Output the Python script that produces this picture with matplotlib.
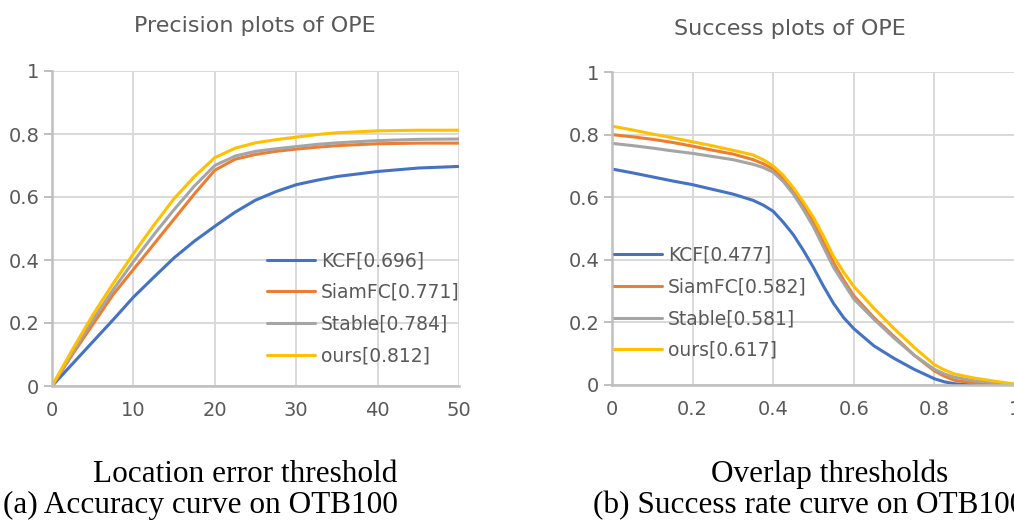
import numpy as np
import matplotlib
matplotlib.use("Agg")
import matplotlib.pyplot as plt

# Precision plot (location error threshold)
err_thr = [0, 2.5, 5, 7.5, 10, 12.5, 15, 17.5, 20, 22.5, 25, 27.5, 30, 32.5, 35, 40, 45, 50]
prec_kcf = [0, 0.07, 0.14, 0.21, 0.282, 0.345, 0.407, 0.46, 0.507, 0.552, 0.59, 0.617, 0.639, 0.653, 0.665, 0.681, 0.692, 0.697]
prec_siam = [0, 0.10, 0.195, 0.29, 0.37, 0.45, 0.53, 0.61, 0.685, 0.72, 0.735, 0.745, 0.752, 0.758, 0.763, 0.769, 0.771, 0.771]
prec_stable = [0, 0.105, 0.21, 0.305, 0.395, 0.48, 0.56, 0.635, 0.70, 0.73, 0.745, 0.753, 0.76, 0.767, 0.772, 0.779, 0.783, 0.784]
prec_ours = [0, 0.115, 0.225, 0.325, 0.42, 0.51, 0.595, 0.665, 0.725, 0.755, 0.772, 0.782, 0.79, 0.798, 0.804, 0.81, 0.812, 0.812]

# Success plot (overlap threshold)
ov_thr = [0, 0.05, 0.1, 0.15, 0.2, 0.25, 0.3, 0.35, 0.375, 0.4, 0.425, 0.45, 0.475, 0.5,
          0.525, 0.55, 0.575, 0.6, 0.65, 0.7, 0.75, 0.8, 0.825, 0.85, 0.9, 0.95, 1.0]
succ_kcf = [0.69, 0.678, 0.665, 0.652, 0.64, 0.625, 0.61, 0.59, 0.575, 0.555, 0.52, 0.48, 0.43, 0.375,
            0.315, 0.26, 0.215, 0.18, 0.125, 0.085, 0.05, 0.02, 0.01, 0.004, 0, 0, 0]
succ_siam = [0.80, 0.793, 0.785, 0.775, 0.763, 0.75, 0.738, 0.72, 0.707, 0.69, 0.66, 0.62, 0.575, 0.52,
             0.455, 0.39, 0.335, 0.285, 0.215, 0.155, 0.095, 0.045, 0.028, 0.015, 0.006, 0.002, 0]
succ_stable = [0.772, 0.765, 0.757, 0.748, 0.74, 0.73, 0.72, 0.705, 0.695, 0.68, 0.65, 0.61, 0.56, 0.505,
               0.44, 0.375, 0.325, 0.275, 0.21, 0.15, 0.095, 0.05, 0.035, 0.025, 0.013, 0.007, 0.002]
succ_ours = [0.827, 0.815, 0.802, 0.79, 0.777, 0.764, 0.75, 0.735, 0.72, 0.70, 0.67, 0.63, 0.585, 0.535,
             0.475, 0.41, 0.36, 0.315, 0.245, 0.18, 0.12, 0.065, 0.048, 0.035, 0.022, 0.012, 0.003]

labels_prec = ["KCF[0.696]", "SiamFC[0.771]", "Stable[0.784]", "ours[0.812]"]
labels_succ = ["KCF[0.477]", "SiamFC[0.582]", "Stable[0.581]", "ours[0.617]"]
colors = ["#4472C4", "#ED7D31", "#A5A5A5", "#FFC000"]

W, H = 1014, 531
fig = plt.figure(figsize=(W / 100, H / 100), dpi=100)
plt.rcParams['font.family'] = ['DejaVu Sans']
txtc = "#595959"


def px_axes(x0, x1, ytop, ybot):
    return fig.add_axes([x0 / W, 1 - ybot / H, (x1 - x0) / W, (ybot - ytop) / H])


def style(ax, xticks, xlabels):
    ax.set_ylim(0, 1)
    ax.set_yticks([0, 0.2, 0.4, 0.6, 0.8, 1])
    ax.set_yticklabels(["0", "0.2", "0.4", "0.6", "0.8", "1"])
    ax.set_xticks(xticks)
    ax.set_xticklabels(xlabels)
    ax.grid(True, color="#D9D9D9", lw=1.4)
    ax.set_axisbelow(True)
    for s in ["top", "right"]:
        ax.spines[s].set_visible(False)
    for s in ["left", "bottom"]:
        ax.spines[s].set_color("#BFBFBF")
        ax.spines[s].set_linewidth(1.8)
    ax.tick_params(axis="y", length=6, width=1.4, color="#BFBFBF", pad=3.0,
                   labelsize=14, labelcolor=txtc)
    ax.tick_params(axis="x", length=0, pad=11, labelsize=14, labelcolor=txtc)


leg_kw = dict(loc="upper left", frameon=False, fontsize=13.5, handlelength=2.55,
              handletextpad=0.33, labelspacing=0.68, borderpad=0, borderaxespad=0,
              labelcolor=txtc)

# left panel
ax1 = px_axes(52, 459, 71, 386)
for y, lab, c in zip([prec_kcf, prec_siam, prec_stable, prec_ours], labels_prec, colors):
    ax1.plot(err_thr, y, color=c, lw=2.2, label=lab, solid_capstyle="round")
ax1.set_xlim(0, 50)
style(ax1, [0, 10, 20, 30, 40, 50], ["0", "10", "20", "30", "40", "50"])
ax1.legend(bbox_to_anchor=(0.528, 0.428), **leg_kw)

# right panel
ax2 = px_axes(612, 1015, 72, 385)
for y, lab, c in zip([succ_kcf, succ_siam, succ_stable, succ_ours], labels_succ, colors):
    ax2.plot(ov_thr, y, color=c, lw=2.2, label=lab, solid_capstyle="round")
ax2.set_xlim(0, 1)
style(ax2, [0, 0.2, 0.4, 0.6, 0.8, 1], ["0", "0.2", "0.4", "0.6", "0.8", "1"])
ax2.legend(bbox_to_anchor=(0.005, 0.445), **leg_kw)

# titles
fig.text(255 / W, 1 - 32 / H, "Precision plots of OPE", ha="center", va="baseline",
         fontsize=16, color=txtc)
fig.text(790 / W, 1 - 35 / H, "Success plots of OPE", ha="center", va="baseline",
         fontsize=16, color=txtc)

# captions
serif = ["Liberation Serif", "DejaVu Serif"]
fig.text(245 / W, 1 - 482 / H, "Location error threshold", ha="center", va="baseline",
         fontsize=22.5, family=serif, color="black")
fig.text(3 / W, 1 - 513 / H, "(a) Accuracy curve on OTB100", ha="left", va="baseline",
         fontsize=22.5, family=serif, color="black")
fig.text(830 / W, 1 - 482 / H, "Overlap thresholds", ha="center", va="baseline",
         fontsize=22.5, family=serif, color="black")
fig.text(593 / W, 1 - 513 / H, "(b) Success rate curve on OTB100", ha="left", va="baseline",
         fontsize=22.5, family=serif, color="black")

fig.savefig("out.png", dpi=100)
